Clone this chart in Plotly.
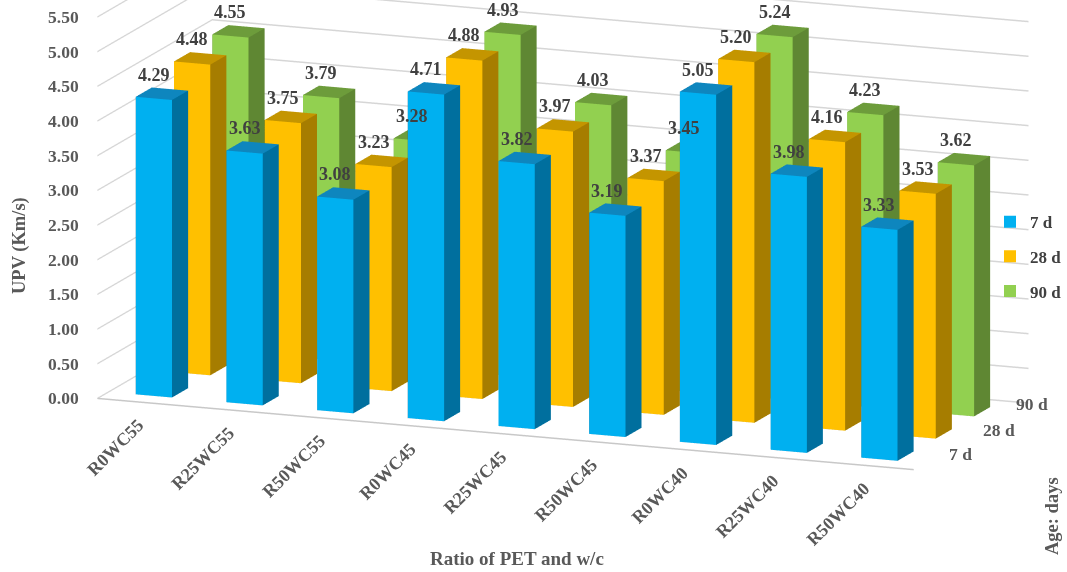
import numpy as np
import plotly.graph_objects as go

categories = ["R0WC55", "R25WC55", "R50WC55", "R0WC45", "R25WC45", "R50WC45", "R0WC40", "R25WC40", "R50WC40"]
ages = ["7 d", "28 d", "90 d"]
upv_7d = [4.29, 3.63, 3.08, 4.71, 3.82, 3.19, 5.05, 3.98, 3.33]
upv_28d = [4.48, 3.75, 3.23, 4.88, 3.97, 3.37, 5.20, 4.16, 3.53]
upv_90d = [4.55, 3.79, 3.28, 4.93, 4.03, 3.45, 5.24, 4.23, 3.62]
z_ticks = [0.0, 0.5, 1.0, 1.5, 2.0, 2.5, 3.0, 3.5, 4.0, 4.5, 5.0, 5.5, 6.0]
front_colors = ["#00B0F0", "#FFC000", "#92D050"]
side_colors = ["#006F9E", "#A67D00", "#5F8733"]
top_colors = ["#0E86BE", "#C49500", "#6D9C3B"]

BW, BD = 0.40, 0.42
FONT = "Liberation Serif"


def tofont(size, color="#595959"):
    return dict(family=FONT, size=size, color=color, weight="bold")


def boxes(values, iy, front, side, top):
    xs, ys, zs, i, j, k, fc = [], [], [], [], [], [], []
    for ic, v in enumerate(values):
        x0, x1 = ic + .5 - BW / 2, ic + .5 + BW / 2
        y0, y1 = iy + .5 - BD / 2, iy + .5 + BD / 2
        n = len(xs)
        for z in (0, v):
            for (a, b) in ((x0, y0), (x1, y0), (x1, y1), (x0, y1)):
                xs.append(a); ys.append(b); zs.append(z)
        quads = [((0, 1, 5, 4), front), ((1, 2, 6, 5), side), ((4, 5, 6, 7), top),
                 ((3, 2, 6, 7), side), ((0, 3, 7, 4), side), ((0, 1, 2, 3), side)]
        for (p, q, r, s), c in quads:
            i += [n + p, n + p]; j += [n + q, n + r]; k += [n + r, n + s]; fc += [c, c]
    return xs, ys, zs, i, j, k, fc


fig = go.Figure()
series = [upv_7d, upv_28d, upv_90d]
annots = []
for iy, vals in enumerate(series):
    xs, ys, zs, i, j, k, fc = boxes(vals, iy, front_colors[iy], side_colors[iy], top_colors[iy])
    fig.add_trace(go.Mesh3d(x=xs, y=ys, z=zs, i=i, j=j, k=k, facecolor=fc, flatshading=True,
                            lighting=dict(ambient=1, diffuse=0, specular=0, fresnel=0),
                            showlegend=False, hoverinfo="skip"))
    fig.add_trace(go.Scatter3d(x=[None], y=[None], z=[None], mode="markers", name=ages[iy],
                               legendgroup=ages[iy], showlegend=True,
                               marker=dict(symbol="square", size=9, color=front_colors[iy])))
    for ic, v in enumerate(vals):
        annots.append(dict(x=ic + .5, y=iy + .5, z=v, text=f"{v:.2f}", showarrow=False,
                           yanchor="bottom", yshift=7, xshift=-8, font=tofont(18, "#404040")))

# tick labels anchored to the scene's own coordinates
for ic, c in enumerate(categories):
    annots.append(dict(x=ic + .5, y=0, z=0, text=c, showarrow=False, textangle=-45, xanchor="right",
                       yanchor="top", xshift=8, yshift=-10, font=tofont(18)))
for iy, a in enumerate(ages):
    annots.append(dict(x=9, y=iy + .5, z=0, text=a, showarrow=False, xanchor="left", xshift=[14, 10, 5][iy],
                       yshift=[5, 6, 10][iy], font=tofont(17.5)))
for t in z_ticks[:-1]:
    annots.append(dict(x=0, y=0, z=t, text=f"{t:.2f}", showarrow=False, xanchor="right", xshift=-16,
                       font=tofont(17.5)))

# camera (orthographic)
theta, phi = np.radians(21.2), np.radians(13.0)
U = 286.5
ZMAX = z_ticks[-1]
aspect = dict(x=877 / U, y=318 / U, z=ZMAX * 71.3 / U)
dist = 2.0
eye = dist * np.array([np.sin(theta) * np.cos(phi), -np.cos(theta) * np.cos(phi), np.sin(phi)])
f = -eye / np.linalg.norm(eye)
r = np.cross(f, [0, 0, 1]); r /= np.linalg.norm(r)
u = np.cross(r, f)
shift = -(29.5 / U) * r - (93.5 / U) * u
center = shift
eye = eye + shift

axis_common = dict(showbackground=False, zeroline=False, showspikes=False, title=dict(text=""),
                   showticklabels=False, ticks="")
fig.update_layout(
    width=1067, height=572, margin=dict(l=0, r=0, t=0, b=0), paper_bgcolor="white",
    showlegend=True,
    legend=dict(x=1.0, y=0.643, xanchor="right", yanchor="top", font=tofont(17, "#404040"),
                bgcolor="rgba(0,0,0,0)", tracegroupgap=9.5, itemsizing="constant", itemwidth=30,
                entrywidth=32, entrywidthmode="pixels"),
    scene=dict(
        domain=dict(x=[0, 1], y=[0, 1]),
        aspectmode="manual", aspectratio=aspect,
        camera=dict(projection=dict(type="orthographic"), up=dict(x=0, y=0, z=1),
                    eye=dict(x=eye[0], y=eye[1], z=eye[2]),
                    center=dict(x=center[0], y=center[1], z=center[2])),
        xaxis=dict(axis_common, range=[0, 9], showgrid=False, showline=True, linecolor="#C8C8C8", linewidth=3),
        yaxis=dict(axis_common, range=[0, 3], showgrid=False, showline=False),
        zaxis=dict(axis_common, range=[0, ZMAX], tickmode="array", tickvals=z_ticks,
                   showgrid=True, gridcolor="#D6D6D6", gridwidth=3, showline=False),
        annotations=annots,
    ),
    annotations=[
        dict(xref="paper", yref="paper", x=20 / 1067, y=1 - 246 / 572, text="UPV (Km/s)", textangle=-90,
             xanchor="center", yanchor="middle", showarrow=False, font=tofont(18.5)),
        dict(xref="paper", yref="paper", x=517 / 1067, y=1 - 558 / 572, text="Ratio of PET and w/c",
             xanchor="center", yanchor="middle", showarrow=False, font=tofont(19)),
        dict(xref="paper", yref="paper", x=1052 / 1067, y=1 - 516 / 572, text="Age: days", textangle=-90,
             xanchor="center", yanchor="middle", showarrow=False, font=tofont(18.5)),
    ],
)
fig.write_html("out.html", config=dict(displayModeBar=False),
               post_script="document.body.style.margin='0';document.body.style.overflow='hidden';")
